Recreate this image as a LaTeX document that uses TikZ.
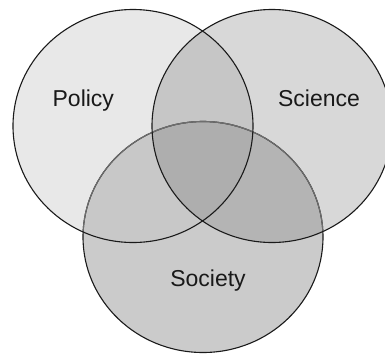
\documentclass[tikz,border=0pt]{standalone}
\usepackage{fontspec}
\setmainfont{Liberation Sans}
\definecolor{cP}{HTML}{E8E8E8}
\definecolor{cS}{HTML}{D8D8D8}
\definecolor{cO}{HTML}{CBCBCB}
\definecolor{cPS}{HTML}{C6C6C6}
\definecolor{cPO}{HTML}{C8C8C8}
\definecolor{cSO}{HTML}{B4B4B4}
\definecolor{cALL}{HTML}{AEAEAE}
\definecolor{edge}{HTML}{1A1A1A}
\definecolor{edgesoft}{HTML}{6E6E6E}
\tikzset{
  polpath/.style={insert path={(133,126) ellipse [x radius=120pt, y radius=116.5pt]}},
  scipath/.style={insert path={(272,126) ellipse [x radius=120pt, y radius=116.5pt]}},
  socpath/.style={insert path={(203,237) ellipse [x radius=120pt, y radius=115.5pt]}},
  outline/.style={draw=edge, line width=1.1pt},
  softline/.style={draw=edgesoft, line width=1.1pt},
  label/.style={font=\fontsize{23}{27}\selectfont, anchor=base, inner sep=0pt, text=black!90}
}
\begin{document}
\begin{tikzpicture}[x=1pt,y=-1pt]
\useasboundingbox (0,0) rectangle (385,354);
\fill[white] (0,0) rectangle (385,354);
% single regions
\fill[cP, polpath];
\fill[cS, scipath];
\fill[cO, socpath];
% pairwise overlaps
\begin{scope}\clip[polpath]; \fill[cPS, scipath];\end{scope}
\begin{scope}\clip[polpath]; \fill[cPO, socpath];\end{scope}
\begin{scope}\clip[scipath]; \fill[cSO, socpath];\end{scope}
% triple overlap
\begin{scope}\clip[polpath]; \clip[scipath]; \fill[cALL, socpath];\end{scope}
% outlines
\path[outline, socpath];
\begin{scope}\clip[polpath]; \path[softline, socpath];\end{scope}
\begin{scope}\clip[scipath]; \path[softline, socpath];\end{scope}
\path[outline, polpath];
\path[outline, scipath];
% labels
\node[label] (policy) at (83.3,106) {Policy};
\node[label] (science) at (319,106) {Science};
\node[label] (society) at (208,286.7) {Society};
\end{tikzpicture}
\end{document}
